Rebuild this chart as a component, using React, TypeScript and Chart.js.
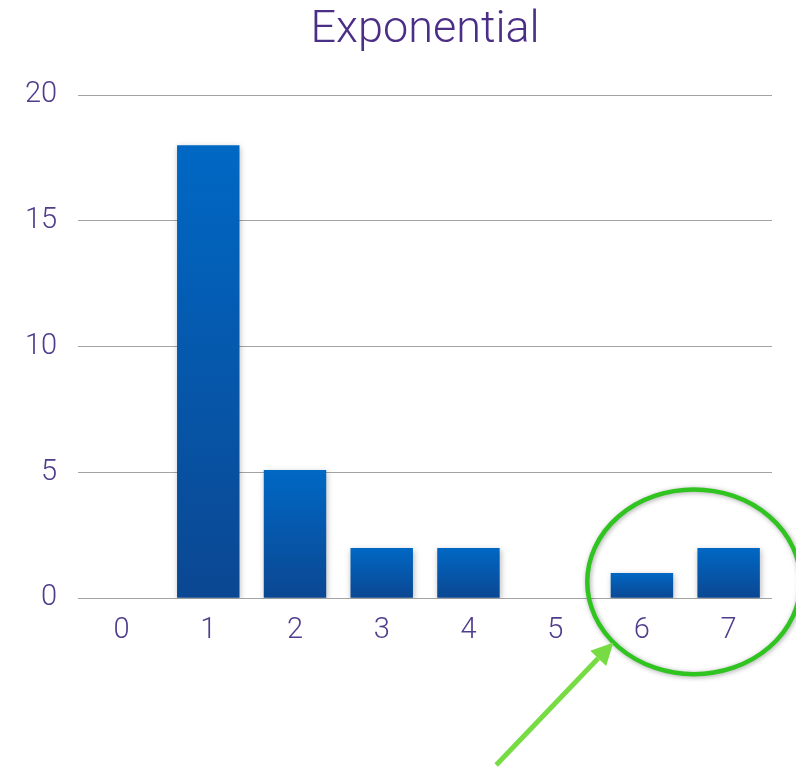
import React, { useEffect, useRef } from "react";
import { Chart, registerables } from "chart.js";

Chart.register(...registerables);

const categories = ["0", "1", "2", "3", "4", "5", "6", "7"];
const values = [0, 18, 5.1, 2, 2, 0, 1, 2];
const yTicks = [0, 5, 10, 15, 20];
const titleText = "Exponential";

// Annotation placement, in axis units (category index, value)
const ellipseCenter = [6.6, 0.65];
const ellipseRadius = [1.23, 3.67];
const arrowTail = [4.32, -6.63];
const arrowTipAngleDeg = 139;

const annotationPlugin = {
  id: "annot",
  beforeDatasetsDraw(chart: any) {
    const ctx = chart.ctx;
    ctx.save();
    ctx.shadowColor = "rgba(0,0,0,0.28)";
    ctx.shadowBlur = 6;
    ctx.shadowOffsetX = 1;
    ctx.shadowOffsetY = 2;
  },
  afterDatasetsDraw(chart: any) {
    chart.ctx.restore();
  },
  afterDraw(chart: any) {
    const ctx = chart.ctx;
    const xs = chart.scales.x;
    const ys = chart.scales.y;
    const unitX = xs.getPixelForValue(1) - xs.getPixelForValue(0);
    const unitY = ys.getPixelForValue(0) - ys.getPixelForValue(1);
    const cx = xs.getPixelForValue(0) + ellipseCenter[0] * unitX;
    const cy = ys.getPixelForValue(ellipseCenter[1]);
    const rx = ellipseRadius[0] * unitX;
    const ry = ellipseRadius[1] * unitY;
    ctx.save();
    ctx.shadowColor = "rgba(0,0,0,0.35)";
    ctx.shadowBlur = 5;
    ctx.shadowOffsetX = 1;
    ctx.shadowOffsetY = 1;
    ctx.strokeStyle = "#2fc41f";
    ctx.lineWidth = 4.5;
    ctx.beginPath();
    ctx.ellipse(cx, cy, rx, ry, 0, 0, Math.PI * 2);
    ctx.stroke();
    ctx.restore();

    // arrow
    const a = (arrowTipAngleDeg * Math.PI) / 180;
    const tipX = cx + rx * Math.cos(a);
    const tipY = cy + ry * Math.sin(a);
    const tailX = xs.getPixelForValue(0) + arrowTail[0] * unitX;
    const tailY = ys.getPixelForValue(arrowTail[1]);
    const ang = Math.atan2(tipY - tailY, tipX - tailX);
    const headLen = 22;
    const headW = 11;
    const bx = tipX - headLen * Math.cos(ang);
    const by = tipY - headLen * Math.sin(ang);
    ctx.save();
    ctx.strokeStyle = "#77dc44";
    ctx.fillStyle = "#77dc44";
    ctx.lineWidth = 5;
    ctx.beginPath();
    ctx.moveTo(tailX, tailY);
    ctx.lineTo(bx, by);
    ctx.stroke();
    ctx.beginPath();
    ctx.moveTo(tipX, tipY);
    ctx.lineTo(bx + headW * Math.sin(ang), by - headW * Math.cos(ang));
    ctx.lineTo(bx - headW * Math.sin(ang), by + headW * Math.cos(ang));
    ctx.closePath();
    ctx.fill();
    ctx.restore();
  },
};

export default function App() {
  const ref = useRef<HTMLCanvasElement>(null);
  useEffect(() => {
    if (!ref.current) return;
    const chart = new Chart(ref.current, {
      type: "bar",
      data: {
        labels: categories,
        datasets: [
          {
            data: values,
            backgroundColor: (c: any) => {
              const ch = c.chart;
              const ys = ch.scales?.y;
              if (!ys || c.parsed == null) return "#0a58ae";
              const top = ys.getPixelForValue(c.parsed.y);
              const base = ys.getPixelForValue(0);
              if (!isFinite(top) || !isFinite(base) || top === base) return "#0a58ae";
              const g = ch.ctx.createLinearGradient(0, top, 0, base);
              g.addColorStop(0, "#0068c4");
              g.addColorStop(1, "#0b4792");
              return g;
            },
            borderWidth: 0,
            barPercentage: 0.72,
            categoryPercentage: 1,
          },
        ],
      },
      options: {
        animation: false,
        responsive: false,
        devicePixelRatio: 1,
        layout: { padding: { left: 4, right: 24, top: 4, bottom: 113 } },
        plugins: {
          legend: { display: false },
          tooltip: { enabled: false },
          title: {
            display: true,
            text: titleText,
            fullSize: false,
            color: "#4b2f86",
            font: { family: "Roboto, 'Liberation Sans', sans-serif", size: 45, weight: "300" as any },
            padding: { top: 0, bottom: 37 },
          },
        },
        scales: {
          x: {
            grid: { display: false },
            border: { display: false },
            ticks: {
              color: "#503c8c",
              padding: 7,
              font: { family: "Roboto, 'Liberation Sans', sans-serif", size: 29, weight: "300" as any },
            },
          },
          y: {
            min: 0,
            max: 20,
            afterBuildTicks: (s: any) => {
              s.ticks = yTicks.map((v) => ({ value: v }));
            },
            grid: { color: "#a3a3a3", lineWidth: 1, drawTicks: false },
            border: { display: false },
            ticks: {
              color: "#503c8c",
              padding: 21,
              font: { family: "Roboto, 'Liberation Sans', sans-serif", size: 29, weight: "300" as any },
            },
          },
        },
      },
      plugins: [annotationPlugin],
    });
    return () => chart.destroy();
  }, []);
  return (
    <div style={{ position: "absolute", left: 0, top: 0, width: 796, height: 768, background: "#fff" }}>
      <canvas ref={ref} width={796} height={768} style={{ width: 796, height: 768, display: "block" }} />
    </div>
  );
}
